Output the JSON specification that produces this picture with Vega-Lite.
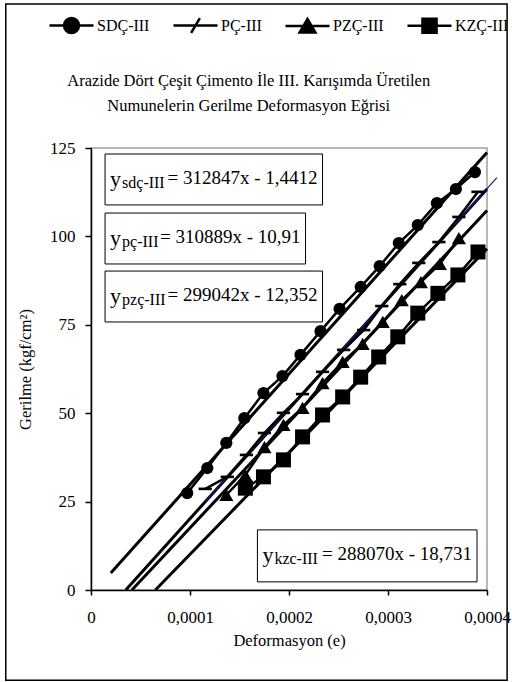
{
  "$schema": "https://vega.github.io/schema/vega-lite/v6.json",
  "autosize": {"type": "none"},
  "padding": {"left": 91, "top": 148, "right": 25, "bottom": 92},
  "width": 396,
  "height": 442,
  "background": "white",
  "title": {
    "text": ["Arazide Dört Çeşit Çimento İle III. Karışımda Üretilen", "Numunelerin Gerilme Deformasyon Eğrisi"],
    "orient": "top",
    "anchor": "middle",
    "frame": "bounds",
    "offset": -112,
    "dx": -9,
    "fontSize": 16.5,
    "fontWeight": "normal",
    "lineHeight": 25,
    "color": "black"
  },
  "datasets": {
    "pts": [
      {"s": "SDÇ-III", "x": 0.0000972, "y": 27.4},
      {"s": "SDÇ-III", "x": 0.0001175, "y": 34.5},
      {"s": "SDÇ-III", "x": 0.0001367, "y": 41.6},
      {"s": "SDÇ-III", "x": 0.0001549, "y": 48.6},
      {"s": "SDÇ-III", "x": 0.0001742, "y": 55.7},
      {"s": "SDÇ-III", "x": 0.0001934, "y": 60.5},
      {"s": "SDÇ-III", "x": 0.0002116, "y": 66.5},
      {"s": "SDÇ-III", "x": 0.0002319, "y": 73.2},
      {"s": "SDÇ-III", "x": 0.0002511, "y": 79.5},
      {"s": "SDÇ-III", "x": 0.0002724, "y": 85.7},
      {"s": "SDÇ-III", "x": 0.0002916, "y": 91.6},
      {"s": "SDÇ-III", "x": 0.0003109, "y": 98.1},
      {"s": "SDÇ-III", "x": 0.0003301, "y": 103.2},
      {"s": "SDÇ-III", "x": 0.0003494, "y": 109.4},
      {"s": "SDÇ-III", "x": 0.0003686, "y": 113.4},
      {"s": "SDÇ-III", "x": 0.0003878, "y": 118.2},
      {"s": "PÇ-III", "x": 0.0001154, "y": 28.6},
      {"s": "PÇ-III", "x": 0.0001377, "y": 32.0},
      {"s": "PÇ-III", "x": 0.0001570, "y": 38.2},
      {"s": "PÇ-III", "x": 0.0001752, "y": 44.4},
      {"s": "PÇ-III", "x": 0.0001944, "y": 50.1},
      {"s": "PÇ-III", "x": 0.0002137, "y": 55.4},
      {"s": "PÇ-III", "x": 0.0002339, "y": 61.7},
      {"s": "PÇ-III", "x": 0.0002552, "y": 67.9},
      {"s": "PÇ-III", "x": 0.0002754, "y": 73.5},
      {"s": "PÇ-III", "x": 0.0002937, "y": 80.3},
      {"s": "PÇ-III", "x": 0.0003119, "y": 86.5},
      {"s": "PÇ-III", "x": 0.0003311, "y": 92.5},
      {"s": "PÇ-III", "x": 0.0003514, "y": 98.4},
      {"s": "PÇ-III", "x": 0.0003716, "y": 105.5},
      {"s": "PÇ-III", "x": 0.0003909, "y": 112.6},
      {"s": "PZÇ-III", "x": 0.0001367, "y": 26.9},
      {"s": "PZÇ-III", "x": 0.0001559, "y": 32.5},
      {"s": "PZÇ-III", "x": 0.0001752, "y": 40.4},
      {"s": "PZÇ-III", "x": 0.0001944, "y": 46.7},
      {"s": "PZÇ-III", "x": 0.0002137, "y": 51.5},
      {"s": "PZÇ-III", "x": 0.0002339, "y": 58.5},
      {"s": "PZÇ-III", "x": 0.0002542, "y": 64.5},
      {"s": "PZÇ-III", "x": 0.0002744, "y": 69.6},
      {"s": "PZÇ-III", "x": 0.0002947, "y": 75.8},
      {"s": "PZÇ-III", "x": 0.0003139, "y": 82.0},
      {"s": "PZÇ-III", "x": 0.0003332, "y": 87.1},
      {"s": "PZÇ-III", "x": 0.0003524, "y": 92.2},
      {"s": "PZÇ-III", "x": 0.0003716, "y": 99.5},
      {"s": "KZÇ-III", "x": 0.0001559, "y": 28.8},
      {"s": "KZÇ-III", "x": 0.0001742, "y": 32.0},
      {"s": "KZÇ-III", "x": 0.0001944, "y": 36.8},
      {"s": "KZÇ-III", "x": 0.0002137, "y": 43.3},
      {"s": "KZÇ-III", "x": 0.0002339, "y": 49.5},
      {"s": "KZÇ-III", "x": 0.0002542, "y": 54.6},
      {"s": "KZÇ-III", "x": 0.0002724, "y": 60.2},
      {"s": "KZÇ-III", "x": 0.0002906, "y": 65.9},
      {"s": "KZÇ-III", "x": 0.0003099, "y": 71.6},
      {"s": "KZÇ-III", "x": 0.0003301, "y": 78.3},
      {"s": "KZÇ-III", "x": 0.0003504, "y": 83.9},
      {"s": "KZÇ-III", "x": 0.0003706, "y": 89.1},
      {"s": "KZÇ-III", "x": 0.0003909, "y": 95.6}
    ],
    "trend": [
      {"s": "SDÇ-III", "x": 0.00002, "y": 4.8},
      {"s": "SDÇ-III", "x": 0.0004, "y": 123.7},
      {"s": "PÇ-III", "x": 0.0000351, "y": 0},
      {"s": "PÇ-III", "x": 0.0004, "y": 113.4},
      {"s": "PZÇ-III", "x": 0.0000413, "y": 0},
      {"s": "PZÇ-III", "x": 0.0004, "y": 107.3},
      {"s": "KZÇ-III", "x": 0.000065, "y": 0},
      {"s": "KZÇ-III", "x": 0.0004, "y": 96.5}
    ],
    "blue": [
      {"x": 0.000115, "y": 24.9},
      {"x": 0.00041, "y": 116.6}
    ],
    "eq": [
      {"s": "SDÇ-III", "sub": "sdç-III", "eq": "= 312847x - 1,4412", "x1": 0.0000142, "x2": 0.0002339, "y1": 123.3, "y2": 108.9},
      {"s": "PÇ-III", "sub": "pç-III", "eq": "= 310889x - 10,91", "x1": 0.0000142, "x2": 0.0002167, "y1": 106.6, "y2": 92.2},
      {"s": "PZÇ-III", "sub": "pzç-III", "eq": "= 299042x - 12,352", "x1": 0.0000142, "x2": 0.0002339, "y1": 90.2, "y2": 75.8},
      {"s": "KZÇ-III", "sub": "kzc-III", "eq": "= 288070x - 18,731", "x1": 0.0001681, "x2": 0.0003899, "y1": 17.0, "y2": 2.3}
    ]
  },
  "layer": [
    {
      "data": {"values": [{}]},
      "mark": {"type": "rect", "fill": "transparent", "stroke": "black", "strokeWidth": 1.5},
      "encoding": {
        "x": {"datum": -0.0000861, "type": "quantitative", "scale": {"domain": [0, 0.0004], "nice": false, "zero": false}, "axis": {
          "values": [0, 0.0001, 0.0002, 0.0003, 0.0004],
          "labelExpr": "datum.value == 0 ? '0' : replace(format(datum.value, '.4f'), '.', ',')",
          "title": "Deformasyon (e)",
          "grid": false,
          "tickSize": 5,
          "labelPadding": 14,
          "labelFontSize": 17,
          "labelFlush": false,
          "labelOverlap": false,
          "titleFontSize": 16.5,
          "titleFontWeight": "normal",
          "titleY": 50,
          "titleBaseline": "middle"
        }},
        "x2": {"datum": 0.0004203},
        "y": {"datum": 165.7, "type": "quantitative", "scale": {"domain": [0, 125], "nice": false, "zero": false}, "axis": {
          "values": [0, 25, 50, 75, 100, 125],
          "title": "Gerilme (kgf/cm²)",
          "grid": false,
          "tickSize": 6,
          "labelPadding": 10,
          "labelFontSize": 17,
          "labelFlush": false,
          "labelOverlap": false,
          "titleFontSize": 16.5,
          "titleFontWeight": "normal",
          "titleX": -66,
          "titleY": 221,
          "titleAngle": -90,
          "titleAlign": "center",
          "titleBaseline": "middle"
        }},
        "y2": {"datum": -25.5}
      }
    },
    {
      "data": {"name": "trend"},
      "mark": {"type": "line", "color": "black", "strokeWidth": 3},
      "encoding": {
        "x": {"field": "x", "type": "quantitative"},
        "y": {"field": "y", "type": "quantitative"},
        "detail": {"field": "s"}
      }
    },
    {
      "data": {"name": "blue"},
      "mark": {"type": "line", "color": "#1a1a8c", "strokeWidth": 1.2},
      "encoding": {
        "x": {"field": "x", "type": "quantitative"},
        "y": {"field": "y", "type": "quantitative"}
      }
    },
    {
      "data": {"name": "pts"},
      "mark": {"type": "line", "color": "black", "strokeWidth": 2.5},
      "encoding": {
        "x": {"field": "x", "type": "quantitative"},
        "y": {"field": "y", "type": "quantitative"},
        "detail": {"field": "s"}
      }
    },
    {
      "data": {"name": "pts"},
      "mark": {"type": "point", "filled": true, "color": "black", "opacity": 1},
      "encoding": {
        "x": {"field": "x", "type": "quantitative"},
        "y": {"field": "y", "type": "quantitative"},
        "shape": {"field": "s", "type": "nominal", "legend": null, "scale": {
          "domain": ["SDÇ-III", "PÇ-III", "PZÇ-III", "KZÇ-III"],
          "range": ["circle", "M-1,-0.2H1V0.2H-1Z", "triangle-up", "square"]
        }},
        "size": {"field": "s", "type": "ordinal", "legend": null, "scale": {
          "domain": ["SDÇ-III", "PÇ-III", "PZÇ-III", "KZÇ-III"],
          "range": [150, 225, 200, 180]
        }}
      }
    },
    {
      "data": {"values": []},
      "mark": {"type": "point", "filled": false, "color": "black", "strokeWidth": 2.5},
      "encoding": {
        "x": {"field": "x", "type": "quantitative"},
        "y": {"field": "y", "type": "quantitative"},
        "fill": {"field": "s", "type": "nominal", "legend": null, "scale": {
          "domain": ["SDÇ-III", "PÇ-III", "PZÇ-III", "KZÇ-III"],
          "range": ["black", "black", "black", "black"]
        }},
        "shape": {"field": "s", "type": "nominal",
          "scale": {
            "domain": ["SDÇ-III", "PÇ-III", "PZÇ-III", "KZÇ-III"],
            "range": [
              "M-1,0H1M0.34,0A0.34,0.34,0,1,1,-0.34,0A0.34,0.34,0,1,1,0.34,0Z",
              "M-1,0H1M-0.2,0.34L0.2,-0.34",
              "M-1,0H1M0,-0.32L0.36,0.3H-0.36Z",
              "M-1,0H1M-0.32,-0.32H0.32V0.32H-0.32Z"
            ]
          },
          "legend": {
            "title": null,
            "orient": "none",
            "direction": "horizontal",
            "legendX": -43,
            "legendY": -146,
            "padding": 0,
            "symbolSize": 1936,
            "symbolFillColor": "black",
            "symbolStrokeColor": "black",
            "symbolStrokeWidth": 2.5,
            "symbolOpacity": 1,
            "labelFontSize": 16,
            "labelOffset": 2,
            "columnPadding": 18,
            "labelColor": "black"
          }
        }
      }
    },
    {
      "data": {"name": "eq"},
      "mark": {"type": "rect", "fill": "white", "stroke": "black", "strokeWidth": 1},
      "encoding": {
        "x": {"field": "x1", "type": "quantitative"},
        "x2": {"field": "x2"},
        "y": {"field": "y1", "type": "quantitative"},
        "y2": {"field": "y2"}
      }
    },
    {
      "data": {"name": "eq"},
      "mark": {"type": "text", "align": "left", "baseline": "alphabetic", "dx": 5, "dy": 32, "fontSize": 22, "color": "black"},
      "encoding": {
        "x": {"field": "x1", "type": "quantitative"},
        "y": {"field": "y1", "type": "quantitative"},
        "text": {"value": "y"}
      }
    },
    {
      "data": {"name": "eq"},
      "mark": {"type": "text", "align": "left", "baseline": "alphabetic", "dx": 17, "dy": 34, "fontSize": 16, "color": "black"},
      "encoding": {
        "x": {"field": "x1", "type": "quantitative"},
        "y": {"field": "y1", "type": "quantitative"},
        "text": {"field": "sub"}
      }
    },
    {
      "data": {"name": "eq"},
      "mark": {"type": "text", "align": "right", "baseline": "alphabetic", "dx": -5, "dy": 30, "fontSize": 19, "color": "black"},
      "encoding": {
        "x": {"field": "x2", "type": "quantitative"},
        "y": {"field": "y1", "type": "quantitative"},
        "text": {"field": "eq"}
      }
    }
  ],
  "resolve": {"scale": {"shape": "independent", "size": "independent"}},
  "config": {
    "font": "Liberation Serif",
    "view": {"stroke": "#a0a0a0", "strokeWidth": 1.5},
    "axis": {
      "domainColor": "black",
      "domainWidth": 1.5,
      "tickColor": "black",
      "tickWidth": 1.5,
      "labelColor": "black",
      "titleColor": "black",
      "labelFont": "Liberation Serif",
      "titleFont": "Liberation Serif"
    },
    "legend": {"labelFont": "Liberation Serif"},
    "title": {"font": "Liberation Serif"}
  }
}
